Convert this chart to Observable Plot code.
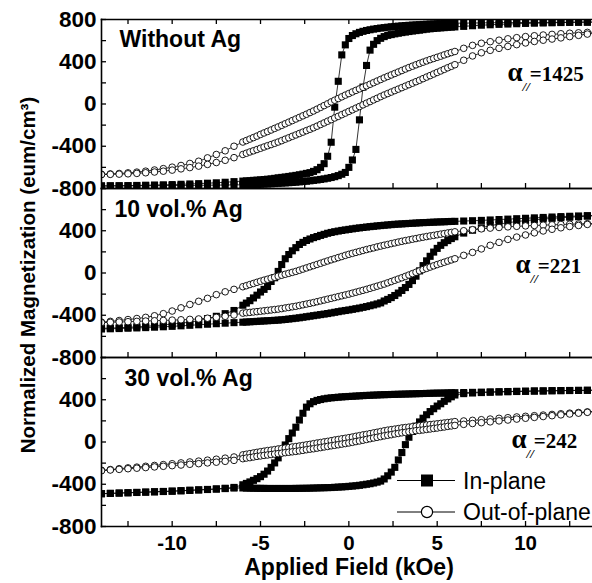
<!DOCTYPE html>
<html><head><meta charset="utf-8">
<script src="https://cdn.jsdelivr.net/npm/d3@7"></script>
<script src="https://cdn.jsdelivr.net/npm/@observablehq/plot@0.6"></script>
<style>html,body{margin:0;padding:0;background:#fff;overflow:hidden}</style>
</head><body><div id="chart"></div>
<script>
// ---------- data ----------
const panels = ["p1", "p2", "p3"];
const panelLabels = ["Without Ag", "10 vol.% Ag", "30 vol.% Ag"];
const alphaValues = ["1425", "221", "242"];
const seriesNames = ["In-plane", "Out-of-plane"];
const yTickLabels = [[-800, -400, 0, 400, 800], [-800, -400, 0, 400], [-800, -400, 0, 400]];
const yMinorTicks = [-800, -600, -400, -200, 0, 200, 400, 600, 800];
const xTicks = [-10, -5, 0, 5, 10];
const xMinorTicks = [-12.5, -10, -7.5, -5, -2.5, 0, 2.5, 5, 7.5, 10, 12.5];

// applied field (kOe) of each measured point
const field = [-14,-13.5,-13,-12.5,-12,-11.5,-11,-10.5,-10,-9.5,-9,-8.5,-8,-7.5,-7,-6.5,
 -6,-5.8,-5.6,-5.4,-5.2,-5,-4.8,-4.6,-4.4,-4.2,
 -4,-3.8,-3.6,-3.4,-3.2,-3,-2.8,-2.6,-2.4,-2.2,
 -2,-1.8,-1.6,-1.4,-1.2,-1,-0.8,-0.6,-0.4,-0.2,
 0,0.2,0.4,0.6,0.8,1,1.2,1.4,1.6,1.8,
 2,2.2,2.4,2.6,2.8,3,3.2,3.4,3.6,3.8,
 4,4.2,4.4,4.6,4.8,5,5.2,5.4,5.6,5.8,
 6,
 6.5,7,7.5,8,8.5,9,9.5,10,10.5,11,11.5,12,12.5,13,13.5,14];

// Without Ag
const p1InDown = [-776,-775,-774,-773,-771,-769,-767,-765,-763,-760,-757,-754,-750,-746,-741,-735,
 -730,-728,-726,-723,-721,-718,-715,-712,-709,-704,
 -699,-695,-691,-686,-681,-676,-670,-664,-657,-650,
 -638,-622,-600,-565,-495,-362,-30,215,465,560,
 620,648,665,678,688,696,703,709,714,719,
 723,727,731,734,737,740,743,745,747,749,
 751,753,755,757,758,760,761,762,763,764,
 765,
 766,767,768,769,770,771,771,772,772,773,773,774,774,775,775,776];
const p1InUp = [-776,-775,-775,-774,-774,-773,-773,-772,-772,-771,-771,-770,-769,-768,-767,-766,
 -765,-764,-763,-762,-761,-760,-758,-757,-755,-753,
 -751,-749,-747,-745,-743,-740,-737,-734,-731,-727,
 -723,-719,-714,-709,-703,-696,-688,-678,-665,-648,
 -600,-530,-430,-150,160,365,510,565,600,622,
 638,650,657,664,670,676,681,686,691,695,
 699,704,709,712,715,718,721,723,726,728,
 730,
 735,741,746,750,754,757,760,763,765,767,769,771,773,774,775,776];
const p1OutDown = [-665,-662,-658,-652,-645,-636,-625,-612,-598,-582,-563,-542,-510,-478,-443,-400,
 -360,-346,-332,-318,-304,-288,-274,-260,-246,-231,
 -217,-202,-187,-172,-157,-142,-127,-112,-97,-81,
 -66,-49,-32,-15,2,20,36,52,68,84,
 99,114,129,143,158,172,187,202,217,232,
 247,261,275,289,303,317,331,345,358,371,
 384,396,408,420,431,442,453,465,476,487,
 497,
 527,555,575,590,604,617,628,638,646,653,659,665,670,674,678,681];
const p1OutUp = [-668,-666,-664,-661,-657,-651,-644,-636,-626,-614,-602,-588,-572,-554,-533,-508,
 -478,-466,-454,-443,-431,-419,-407,-395,-384,-372,
 -360,-347,-333,-320,-306,-293,-279,-266,-252,-239,
 -225,-210,-194,-179,-163,-148,-132,-117,-101,-86,
 -70,-55,-39,-24,-8,8,23,39,54,70,
 85,99,113,127,141,155,169,183,197,211,
 225,240,255,269,284,299,313,328,343,357,
 372,
 414,455,485,508,527,545,562,578,592,604,615,626,638,650,662,672];

// 10 vol.% Ag
const p2InDown = [-524,-521,-518,-514,-510,-505,-499,-492,-484,-475,-465,-452,-432,-410,-385,-355,
 -305,-285,-262,-236,-210,-180,-155,-128,-80,-45,
 15,80,135,175,210,240,270,290,308,322,
 335,345,356,366,376,384,391,397,403,408,
 413,418,423,427,431,435,439,442,446,449,
 452,455,458,461,463,465,467,469,471,473,
 475,477,478,480,481,483,484,485,487,488,
 489,
 492,495,498,502,506,510,514,518,522,526,530,534,537,540,543,546];
const p2InUp = [-530,-528,-526,-523,-520,-517,-513,-509,-505,-500,-495,-490,-485,-480,-475,-470,
 -466,-464,-462,-460,-458,-456,-454,-452,-450,-448,
 -446,-443,-440,-436,-432,-428,-424,-419,-414,-409,
 -404,-399,-394,-389,-384,-378,-372,-366,-360,-355,
 -350,-344,-338,-332,-325,-318,-310,-302,-293,-283,
 -265,-250,-233,-213,-190,-165,-138,-108,-72,-30,
 20,70,115,158,198,233,262,287,307,326,
 343,
 378,405,428,448,463,476,487,496,504,511,517,523,528,533,538,542];
const p2OutDown = [-465,-458,-450,-441,-431,-420,-405,-385,-360,-330,-298,-268,-240,-205,-178,-155,
 -130,-120,-109,-99,-88,-78,-68,-59,-49,-40,
 -30,-21,-12,-3,6,15,26,37,48,59,
 70,81,92,103,114,125,135,146,156,167,
 177,186,195,204,213,222,230,238,247,255,
 263,270,278,285,293,300,307,313,320,326,
 333,339,345,351,356,362,368,373,379,384,
 390,
 400,410,418,425,431,437,442,446,450,453,456,459,462,464,467,469];
const p2OutUp = [-470,-467,-464,-461,-458,-455,-452,-449,-446,-443,-439,-435,-428,-420,-410,-398,
 -380,-376,-373,-369,-366,-362,-358,-354,-350,-346,
 -342,-337,-331,-326,-320,-315,-308,-301,-294,-287,
 -280,-272,-264,-256,-248,-240,-232,-224,-216,-208,
 -200,-191,-182,-173,-164,-155,-145,-135,-125,-115,
 -105,-93,-81,-69,-57,-45,-32,-19,-6,7,
 20,32,44,56,68,80,91,102,113,124,
 135,
 167,195,228,262,290,318,340,360,380,398,414,428,440,450,460,467];

// 30 vol.% Ag
const p3InDown = [-489,-486,-483,-480,-477,-474,-471,-468,-465,-461,-457,-453,-449,-444,-438,-430,
 -405,-392,-378,-363,-347,-328,-305,-275,-240,-198,
 -150,-92,-28,32,85,140,208,272,330,362,
 382,394,402,409,414,418,421,424,427,429,
 431,433,435,437,439,441,442,444,445,447,
 448,449,450,451,452,453,454,455,456,457,
 458,459,460,461,462,463,463,464,465,466,
 467,
 468,470,472,474,476,478,480,481,483,484,486,487,488,489,490,491];
const p3InUp = [-490,-487,-484,-481,-478,-475,-472,-469,-466,-462,-458,-454,-450,-446,-441,-436,
 -435,-436,-437,-438,-438,-439,-439,-440,-440,-440,
 -440,-440,-440,-440,-440,-439,-439,-438,-438,-437,
 -436,-435,-434,-433,-432,-431,-429,-427,-425,-423,
 -420,-417,-414,-410,-405,-400,-395,-388,-380,-370,
 -350,-320,-285,-240,-170,-100,-25,45,100,150,
 190,225,258,288,315,340,362,385,408,428,
 445,
 458,464,468,471,474,476,478,480,482,483,485,486,487,488,489,490];
const p3OutDown = [-268,-261,-253,-245,-238,-230,-222,-214,-206,-198,-189,-181,-172,-163,-153,-142,
 -122,-116,-110,-104,-98,-92,-87,-81,-77,-72,
 -66,-62,-57,-53,-47,-43,-38,-33,-27,-22,
 -16,-10,-5,1,6,12,19,24,30,35,
 41,47,54,60,67,72,79,86,92,99,
 106,112,117,122,127,133,137,141,145,149,
 154,158,161,165,168,172,176,180,184,188,
 193,
 199,205,211,217,224,230,237,243,249,255,261,267,273,279,285,292];
const p3OutUp = [-272,-265,-259,-253,-248,-242,-236,-230,-224,-218,-211,-205,-198,-191,-183,-174,
 -158,-152,-148,-142,-136,-132,-127,-123,-119,-114,
 -110,-106,-101,-97,-93,-89,-84,-79,-73,-68,
 -64,-58,-53,-47,-42,-36,-31,-26,-20,-15,
 -9,-3,4,10,17,24,31,38,44,51,
 58,64,69,76,81,87,91,97,101,107,
 110,114,119,123,128,132,138,142,148,152,
 157,
 167,175,183,191,200,208,217,225,233,241,249,257,265,273,281,288];

// ---------- table ----------
const branches = [
  ["p1", "In-plane", "down", p1InDown], ["p1", "In-plane", "up", p1InUp],
  ["p1", "Out-of-plane", "down", p1OutDown], ["p1", "Out-of-plane", "up", p1OutUp],
  ["p2", "In-plane", "down", p2InDown], ["p2", "In-plane", "up", p2InUp],
  ["p2", "Out-of-plane", "down", p2OutDown], ["p2", "Out-of-plane", "up", p2OutUp],
  ["p3", "In-plane", "down", p3InDown], ["p3", "In-plane", "up", p3InUp],
  ["p3", "Out-of-plane", "down", p3OutDown], ["p3", "Out-of-plane", "up", p3OutUp]
];
const rows = branches.flatMap(([panel, series, branch, values]) =>
  field.map((H, i) => ({panel, series, key: panel + series + branch, H, M: values[i]})));
const inRows = rows.filter(d => d.series === seriesNames[0]);
const outRows = rows.filter(d => d.series === seriesNames[1]);
const yLabelRows = panels.flatMap((panel, i) => yTickLabels[i].map(v => ({panel, v})));

// ---------- layout (pixels) ----------
const SANS = "'Liberation Sans', Arial, sans-serif";
const SERIF = "'Liberation Serif', 'Times New Roman', serif";
const labelPos = [[18, 11], [13, 12], [23, 12]];
const alphaPos = [[406, 61], [414, 84], [410, 90]];

const textMarks = [];
panels.forEach((p, i) => {
  textMarks.push(Plot.text([{panel: p, t: panelLabels[i]}], {
    fy: "panel", text: "t", frameAnchor: "top-left", textAnchor: "start", lineAnchor: "top",
    dx: labelPos[i][0], dy: labelPos[i][1], fontSize: 23, fontWeight: "bold", fontFamily: SANS
  }));
  const [ax, ay] = alphaPos[i];
  textMarks.push(Plot.text([{panel: p, t: "α//=" + alphaValues[i]}], {
    fy: "panel", text: "t", frameAnchor: "top-left", textAnchor: "start", lineAnchor: "bottom",
    dx: ax, dy: ay, fontSize: 21, fontWeight: "bold", fontFamily: SERIF
  }));
});

const chart = Plot.plot({
  width: 592, height: 583,
  marginLeft: 101, marginRight: 0, marginTop: 19, marginBottom: 57,
  style: {fontFamily: SANS, fontSize: "20px", fontWeight: "bold", color: "black", background: "white", overflow: "visible"},
  x: {domain: [-14, 13.79]},
  y: {domain: [-800, 800]},
  fy: {domain: panels, padding: 0, axis: null},
  marks: [
    Plot.line(inRows, {x: "H", y: "M", z: "key", fy: "panel", stroke: "black", strokeWidth: 0.8, clip: true}),
    Plot.dot(inRows, {x: "H", y: "M", fy: "panel", symbol: "square", r: 4, fill: "black", clip: true}),
    Plot.line(outRows, {x: "H", y: "M", z: "key", fy: "panel", stroke: "black", strokeWidth: 0.8, clip: true}),
    Plot.dot(outRows, {x: "H", y: "M", fy: "panel", symbol: "circle", r: 3.3, fill: "white", stroke: "black", strokeWidth: 0.9, clip: true}),
    Plot.frame({anchor: "left", strokeWidth: 1.6}),
    Plot.frame({anchor: "bottom", strokeWidth: 1.6}),
    Plot.frame({anchor: "top", strokeWidth: 1.6}),
    Plot.axisY({ticks: yMinorTicks, tickSize: 5, dx: 5, tickFormat: () => "", label: null, strokeWidth: 1.3}),
    Plot.text(yLabelRows, {y: "v", fy: "panel", text: d => String(d.v), frameAnchor: "left", textAnchor: "end", dx: -5, fontSize: 22.5, fontWeight: "bold", fontFamily: SANS}),
    Plot.axisX({anchor: "bottom", ticks: xMinorTicks, tickSize: 5, dy: -5, tickFormat: () => "", label: null, facetAnchor: null, strokeWidth: 1.3}),
    Plot.axisX({anchor: "top", ticks: xMinorTicks, tickSize: 4, dy: 4, tickFormat: () => "", label: null, strokeWidth: 1.3}),
    Plot.axisX({anchor: "bottom", ticks: xTicks, tickSize: 0, tickPadding: 9, tickFormat: d => String(d), label: null, fontSize: 20.5}),
    ...textMarks,
    Plot.text([{panel: "p2", t: "Normalized Magnetization (eum/cm³)"}], {
      fy: "panel", text: "t", frameAnchor: "left", textAnchor: "middle", rotate: -90, dx: -73, dy: 2, fontSize: 20.5, fontWeight: "bold", fontFamily: SANS
    }),
    Plot.text([{panel: "p3", t: "Applied Field (kOe)"}], {
      fy: "panel", text: "t", frameAnchor: "bottom", textAnchor: "middle", lineAnchor: "bottom", dx: 2, dy: 48, fontSize: 23, fontWeight: "bold", fontFamily: SANS
    })
  ]
});
document.getElementById("chart").appendChild(chart);

const svg = d3.select(chart);

// alpha labels: large alpha, small "//" subscript, then "=value"
svg.selectAll("text").filter(function () { return this.textContent.startsWith("α//="); }).each(function () {
  const value = this.textContent.slice(4);
  const t = d3.select(this).text(null);
  t.append("tspan").attr("font-size", 27).text("α");
  t.append("tspan").attr("font-size", 13).attr("font-style", "italic").attr("dy", 10).text("//");
  t.append("tspan").attr("font-size", 21).attr("dy", -10).text("=" + value);
});

// ---------- legend (inside bottom panel) ----------
const lg = svg.append("g").attr("font-family", SANS).attr("font-size", 23).attr("font-weight", "normal");
const rowsY = [480.5, 512];
seriesNames.forEach((name, i) => {
  const y = rowsY[i];
  lg.append("line").attr("x1", 397).attr("x2", 455).attr("y1", y).attr("y2", y).attr("stroke", "black").attr("stroke-width", 1);
  if (i === 0) lg.append("rect").attr("x", 421).attr("y", y - 6).attr("width", 12).attr("height", 12).attr("fill", "black");
  else lg.append("circle").attr("cx", 427).attr("cy", y).attr("r", 5.6).attr("fill", "white").attr("stroke", "black").attr("stroke-width", 1.2);
  lg.append("text").attr("x", 463).attr("y", y + 8).attr("text-anchor", "start").text(name);
});
</script>
</body></html>
